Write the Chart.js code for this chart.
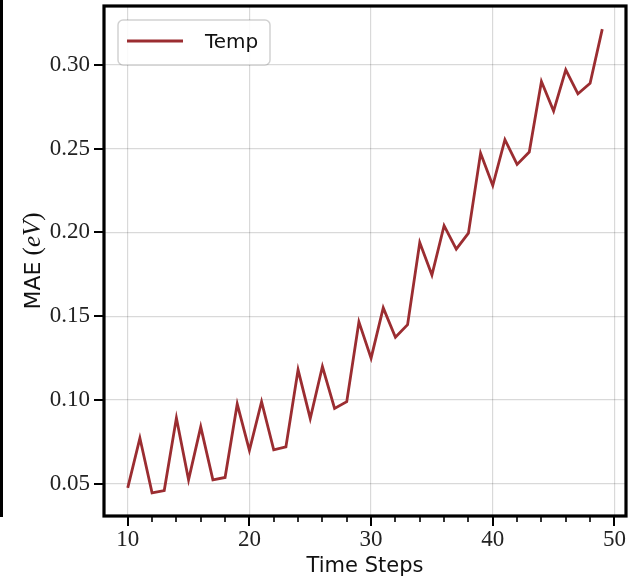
<!DOCTYPE html>
<html>
<head>
<meta charset="utf-8">
<script src="https://cdn.jsdelivr.net/npm/chart.js@4"></script>
<style>
  html, body { margin: 0; padding: 0; background: #fff; }
  canvas { display: block; }
</style>
</head>
<body>
<canvas id="maeChart" width="633" height="581"></canvas>
<script>
// data
const steps = [10, 11, 12, 13, 14, 15, 16, 17, 18, 19,
               20, 21, 22, 23, 24, 25, 26, 27, 28, 29,
               30, 31, 32, 33, 34, 35, 36, 37, 38, 39,
               40, 41, 42, 43, 44, 45, 46, 47, 48, 49];
const tempMae = [0.0476, 0.0773, 0.0446, 0.0460, 0.0893, 0.0524, 0.0840, 0.0524, 0.0538, 0.0976,
                 0.0700, 0.0990, 0.0703, 0.0720, 0.1180, 0.0890, 0.1200, 0.0950, 0.0990, 0.1466,
                 0.1250, 0.1550, 0.1375, 0.1450, 0.1940, 0.1746, 0.2040, 0.1900, 0.1996, 0.2473,
                 0.2280, 0.2553, 0.2406, 0.2480, 0.2900, 0.2724, 0.2970, 0.2827, 0.2890, 0.3213];
const seriesLabel = 'Temp';
const xTicks = [10, 20, 30, 40, 50];
const xMinorTicks = [12, 14, 16, 18, 22, 24, 26, 28, 32, 34, 36, 38, 42, 44, 46, 48];
const yTicks = [0.05, 0.10, 0.15, 0.20, 0.25, 0.30];

const LINE_COLOR = '#9b2d31';
const SERIF = '"Liberation Serif", "DejaVu Serif", serif';
const SANS = '"DejaVu Sans", sans-serif';

// matplotlib style frame, outward ticks, legend box and mixed-font y label
const axesDecor = {
    id: 'axesDecor',
    afterDraw(chart) {
        const ctx = chart.ctx;
        const area = chart.chartArea;
        const xs = chart.scales.x;
        const ys = chart.scales.y;
        ctx.save();

        // neighbouring panel edge at far left
        ctx.fillStyle = '#000';
        ctx.fillRect(0, 0, 3, 517);

        // ticks
        ctx.strokeStyle = '#000';
        ctx.lineWidth = 2;
        xTicks.forEach(v => {
            const px = Math.round(xs.getPixelForValue(v));
            ctx.beginPath();
            ctx.moveTo(px, area.bottom);
            ctx.lineTo(px, area.bottom + 10);
            ctx.stroke();
        });
        ctx.lineWidth = 1.6;
        xMinorTicks.forEach(v => {
            const px = Math.round(xs.getPixelForValue(v));
            ctx.beginPath();
            ctx.moveTo(px, area.bottom);
            ctx.lineTo(px, area.bottom + 6);
            ctx.stroke();
        });
        ctx.lineWidth = 2;
        yTicks.forEach(v => {
            const py = Math.round(ys.getPixelForValue(v));
            ctx.beginPath();
            ctx.moveTo(area.left, py);
            ctx.lineTo(area.left - 10, py);
            ctx.stroke();
        });

        // frame
        ctx.lineWidth = 3.2;
        ctx.strokeRect(area.left, area.top, area.right - area.left, area.bottom - area.top);

        // legend
        const lx = area.left + 14, ly = area.top + 14;
        ctx.beginPath();
        ctx.roundRect(lx, ly, 152, 45, 5);
        ctx.fillStyle = 'rgba(255,255,255,0.85)';
        ctx.fill();
        ctx.strokeStyle = 'rgba(0,0,0,0.18)';
        ctx.lineWidth = 1.5;
        ctx.stroke();
        ctx.strokeStyle = LINE_COLOR;
        ctx.lineWidth = 2.8;
        ctx.beginPath();
        ctx.moveTo(lx + 9, ly + 21);
        ctx.lineTo(lx + 65, ly + 21);
        ctx.stroke();
        ctx.fillStyle = '#111';
        ctx.font = '20px ' + SANS;
        ctx.textBaseline = 'middle';
        ctx.fillText(chart.data.datasets[0].label, lx + 87, ly + 23);

        // y label: MAE (eV)
        const parts = [
            { t: 'MAE', f: '22px ' + SANS },
            { t: ' (', f: '25px ' + SERIF },
            { t: 'eV', f: 'italic 25px ' + SERIF },
            { t: ')', f: '25px ' + SERIF }
        ];
        let total = 0;
        parts.forEach(p => { ctx.font = p.f; p.w = ctx.measureText(p.t).width; total += p.w; });
        ctx.translate(40, (area.top + area.bottom) / 2);
        ctx.rotate(-Math.PI / 2);
        ctx.textBaseline = 'alphabetic';
        ctx.fillStyle = '#111';
        let cx = -total / 2;
        parts.forEach(p => { ctx.font = p.f; ctx.fillText(p.t, cx, 0); cx += p.w; });

        ctx.restore();
    }
};

new Chart(document.getElementById('maeChart'), {
    type: 'line',
    data: {
        datasets: [{
            label: seriesLabel,
            data: steps.map((s, i) => ({ x: s, y: tempMae[i] })),
            borderColor: LINE_COLOR,
            borderWidth: 2.8,
            pointRadius: 0,
            tension: 0,
            fill: false
        }]
    },
    options: {
        responsive: false,
        animation: false,
        devicePixelRatio: 1,
        layout: { padding: { top: 6, right: 7, left: 0, bottom: 0 } },
        plugins: {
            legend: { display: false },
            tooltip: { enabled: false }
        },
        scales: {
            x: {
                type: 'linear',
                min: 8.05,
                max: 50.95,
                afterBuildTicks: s => { s.ticks = xTicks.map(v => ({ value: v })); },
                afterFit: s => { s.height = 65; s.paddingLeft = 0; s.paddingRight = 0; },
                border: { display: false },
                grid: { color: 'rgba(0,0,0,0.15)', lineWidth: 1.2, drawTicks: false },
                ticks: {
                    font: { family: SERIF, size: 23 },
                    color: '#222',
                    padding: 10,
                    maxRotation: 0,
                    callback: v => String(v)
                },
                title: {
                    display: true,
                    text: 'Time Steps',
                    font: { family: SANS, size: 21 },
                    color: '#111',
                    padding: { top: 0, bottom: 2 }
                }
            },
            y: {
                min: 0.0308,
                max: 0.3351,
                afterBuildTicks: s => { s.ticks = yTicks.map(v => ({ value: v })); },
                afterFit: s => { s.width = 104; s.paddingTop = 0; s.paddingBottom = 0; },
                border: { display: false },
                grid: { color: 'rgba(0,0,0,0.15)', lineWidth: 1.2, drawTicks: false },
                ticks: {
                    font: { family: SERIF, size: 23 },
                    color: '#222',
                    padding: 14,
                    callback: v => v.toFixed(2)
                }
            }
        }
    },
    plugins: [axesDecor]
});
</script>
</body>
</html>
